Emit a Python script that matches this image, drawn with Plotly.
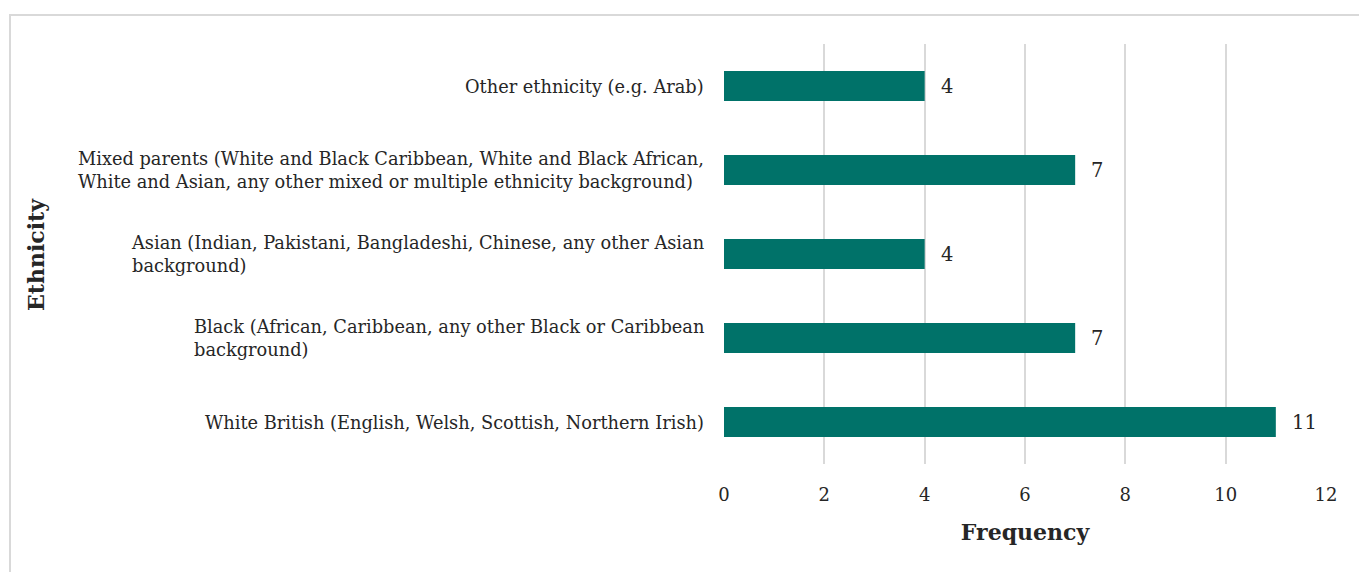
import plotly.graph_objects as go

categories = [
    "White British (English, Welsh, Scottish, Northern Irish)",
    "Black (African, Caribbean, any other Black or Caribbean<br>background)",
    "Asian (Indian, Pakistani, Bangladeshi, Chinese, any other Asian<br>background)",
    "Mixed parents (White and Black Caribbean, White and Black African,<br>White and Asian, any other mixed or multiple ethnicity background)",
    "Other ethnicity (e.g. Arab)",
]
frequency = [11, 7, 4, 7, 4]
x_ticks = [0, 2, 4, 6, 8, 10, 12]

FONT = "DejaVu Serif"
TXT = "#262626"
W, H = 1359, 572
L, R, T, B = 724, 33, 44, 108
pw, ph = W - L - R, H - T - B

fig = go.Figure()
fig.add_trace(go.Bar(
    x=frequency, y=categories, orientation="h",
    marker=dict(color="#007269", line=dict(width=0)),
    width=0.36, hoverinfo="skip",
))

annotations = []
for c, v in zip(categories, frequency):
    annotations.append(dict(
        x=0, xref="paper", y=c, yref="y", text=c, showarrow=False,
        xanchor="right", align="left", xshift=-18,
        font=dict(family=FONT, size=17.8, color=TXT),
    ))
    annotations.append(dict(
        x=v, xref="x", y=c, yref="y", text=str(v), showarrow=False,
        xanchor="left", xshift=14,
        font=dict(family=FONT, size=19.5, color=TXT),
    ))

def px_x(p):
    return (p - L) / pw

def px_y(p):
    return (H - B - p) / ph

fig.update_layout(
    width=W, height=H,
    margin=dict(l=L, r=R, t=T, b=B),
    paper_bgcolor="white", plot_bgcolor="white",
    showlegend=False,
    annotations=annotations,
    shapes=[dict(
        type="rect", xref="paper", yref="paper",
        x0=px_x(10), x1=px_x(1370), y0=px_y(600), y1=px_y(15),
        line=dict(color="#d9d9d9", width=2), fillcolor="rgba(0,0,0,0)", layer="below",
    )],
    xaxis=dict(
        range=[0, 12], tickvals=x_ticks, ticktext=[str(t) for t in x_ticks],
        showgrid=True, gridcolor="#d9d9d9", gridwidth=2,
        zeroline=False, showline=False, ticks="",
        ticklabelstandoff=18,
        tickfont=dict(family=FONT, size=18, color=TXT),
        title=dict(text="<b>Frequency</b>", font=dict(family=FONT, size=22, color=TXT), standoff=20),
        fixedrange=True,
    ),
    yaxis=dict(
        categoryorder="array", categoryarray=categories,
        range=[-0.5, 4.5],
        showticklabels=False, showgrid=False, zeroline=False, showline=False, ticks="",
        fixedrange=True,
    ),
)
fig.add_annotation(
    x=px_x(36), xref="paper", y=px_y(255), yref="paper", text="<b>Ethnicity</b>",
    textangle=-90, showarrow=False, xanchor="center", yanchor="middle",
    font=dict(family=FONT, size=22, color=TXT),
)

fig.write_html("out.html")
